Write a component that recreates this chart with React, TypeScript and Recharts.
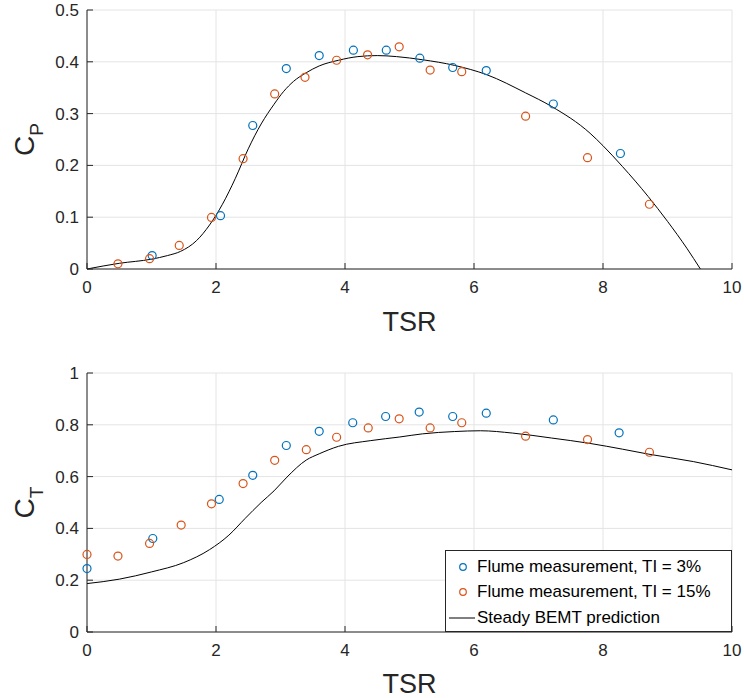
import React from 'react';
import { ComposedChart, Scatter, Line, XAxis, YAxis, CartesianGrid } from 'recharts';

const BLUE = '#0072BD';
const ORANGE = '#D95319';
const AX = '#262626';
const GRID = '#e4e4e4';
const FONT = '"Liberation Sans", Arial, Helvetica, sans-serif';

const tsrTicks = [0, 2, 4, 6, 8, 10];
const cpTicks = [0, 0.1, 0.2, 0.3, 0.4, 0.5];
const ctTicks = [0, 0.2, 0.4, 0.6, 0.8, 1];

// Power coefficient, TI = 3%
const cp3Tsr = [1.01, 2.07, 2.57, 3.09, 3.6, 4.13, 4.64, 5.16, 5.67, 6.19, 7.23, 8.27];
const cp3Val = [0.026, 0.103, 0.277, 0.387, 0.412, 0.4225, 0.4225, 0.407, 0.389, 0.383, 0.3185, 0.223];
// Power coefficient, TI = 15%
const cp15Tsr = [0.48, 0.97, 1.43, 1.93, 2.42, 2.91, 3.38, 3.87, 4.35, 4.84, 5.32, 5.81, 6.8, 7.76, 8.72];
const cp15Val = [0.01, 0.02, 0.0455, 0.0995, 0.213, 0.338, 0.37, 0.403, 0.4135, 0.429, 0.384, 0.381, 0.295, 0.215, 0.125];
// Power coefficient, BEMT
const cpBemtTsr = [0, 0.5, 1.0, 1.25, 1.45, 1.7, 1.9, 2.1, 2.3, 2.5, 2.7, 2.9, 3.05, 3.2, 3.4, 3.6, 3.9, 4.2, 4.5, 4.8, 5.2, 5.7, 6.2, 6.8, 7.2, 7.8, 8.0, 8.3, 8.7, 9.0, 9.3, 9.51];
const cpBemtVal = [0, 0.011, 0.019, 0.026, 0.034, 0.055, 0.085, 0.125, 0.175, 0.232, 0.28, 0.318, 0.343, 0.362, 0.379, 0.392, 0.403, 0.41, 0.412, 0.41, 0.404, 0.393, 0.375, 0.34, 0.314, 0.262, 0.238, 0.198, 0.14, 0.092, 0.04, 0];

// Thrust coefficient, TI = 3%
const ct3Tsr = [0, 1.02, 2.05, 2.57, 3.09, 3.6, 4.12, 4.63, 5.15, 5.67, 6.19, 7.23, 8.25];
const ct3Val = [0.245, 0.361, 0.512, 0.605, 0.72, 0.775, 0.808, 0.832, 0.849, 0.832, 0.845, 0.819, 0.769];
// Thrust coefficient, TI = 15%
const ct15Tsr = [0, 0.48, 0.97, 1.46, 1.93, 2.42, 2.91, 3.4, 3.87, 4.36, 4.84, 5.32, 5.81, 6.8, 7.76, 8.72];
const ct15Val = [0.2995, 0.293, 0.342, 0.413, 0.495, 0.573, 0.663, 0.704, 0.752, 0.788, 0.823, 0.788, 0.808, 0.756, 0.743, 0.694];
// Thrust coefficient, BEMT
const ctBemtTsr = [0, 0.5, 1.0, 1.5, 1.9, 2.2, 2.45, 2.7, 2.9, 3.1, 3.4, 3.6, 3.9, 4.4, 4.85, 5.2, 5.7, 6.1, 6.6, 7.2, 7.8, 8.3, 8.7, 9.4, 10];
const ctBemtVal = [0.187, 0.204, 0.232, 0.268, 0.318, 0.374, 0.438, 0.5, 0.545, 0.598, 0.664, 0.688, 0.717, 0.739, 0.753, 0.765, 0.774, 0.777, 0.768, 0.749, 0.728, 0.706, 0.687, 0.658, 0.626];

const legendLabels = ['Flume measurement, TI = 3%', 'Flume measurement, TI = 15%', 'Steady BEMT prediction'];

const zip = (xs: number[], ys: number[]) => xs.map((x, i) => ({ x, y: ys[i] }));

const circleShape = (color: string) => (props: any) => {
  const { cx, cy } = props;
  if (cx == null || cy == null) return <g />;
  return <circle cx={cx} cy={cy} r={4} fill="none" stroke={color} strokeWidth={1.2} />;
};

const XTick = (props: any) => {
  const { x, y, payload } = props;
  return (
    <g>
      <line x1={x} y1={y} x2={x} y2={y - 6} stroke={AX} strokeWidth={1} />
      <text x={x} y={y + 24} textAnchor="middle" fontSize={17} fill={AX} fontFamily={FONT}>
        {payload.value}
      </text>
    </g>
  );
};

const YTick = (props: any) => {
  const { x, y, payload } = props;
  return (
    <g>
      <line x1={x} y1={y} x2={x + 6} y2={y} stroke={AX} strokeWidth={1} />
      <text x={x - 8} y={y + 6} textAnchor="end" fontSize={17} fill={AX} fontFamily={FONT}>
        {payload.value}
      </text>
    </g>
  );
};

const LegendBox = () => (
  <div
    style={{
      position: 'absolute',
      left: 445,
      top: 550,
      width: 287,
      height: 82,
      boxSizing: 'border-box',
      border: `1px solid ${AX}`,
      background: '#fff',
      paddingTop: 3,
      fontFamily: FONT,
      fontSize: 17,
      color: '#000',
    }}
  >
    {legendLabels.map((lab, i) => (
      <div key={lab} style={{ height: 25.5, display: 'flex', alignItems: 'center', whiteSpace: 'nowrap' }}>
        <svg width={31} height={20} style={{ flex: '0 0 auto' }}>
          {i < 2 ? (
            <circle cx={17} cy={10} r={3.3} fill="none" stroke={i === 0 ? BLUE : ORANGE} strokeWidth={1.2} />
          ) : (
            <line x1={3} y1={10} x2={29} y2={10} stroke="#000" strokeWidth={1} />
          )}
        </svg>
        <span>{lab}</span>
      </div>
    ))}
  </div>
);

const YLabel = ({ cy, main, sub }: { cy: number; main: string; sub: string }) => (
  <text
    transform={`translate(34,${cy}) rotate(-90)`}
    textAnchor="middle"
    fontSize={28}
    fill={AX}
    fontFamily={FONT}
  >
    {main}
    <tspan fontSize={19} dy={9}>
      {sub}
    </tspan>
  </text>
);

export default function App() {
  const cp3 = zip(cp3Tsr, cp3Val);
  const cp15 = zip(cp15Tsr, cp15Val);
  const cpB = zip(cpBemtTsr, cpBemtVal);
  const ct3 = zip(ct3Tsr, ct3Val);
  const ct15 = zip(ct15Tsr, ct15Val);
  const ctB = zip(ctBemtTsr, ctBemtVal);

  return (
    <div style={{ position: 'absolute', left: 0, top: 0, width: 744, height: 698, background: '#fff' }}>
      <div style={{ position: 'absolute', left: 0, top: 0 }}>
        <ComposedChart width={744} height={340} margin={{ top: 10, right: 12, left: 0, bottom: 0 }}>
          <CartesianGrid stroke={GRID} strokeWidth={1} />
          <XAxis
            dataKey="x"
            type="number"
            domain={[0, 10]}
            ticks={tsrTicks}
            interval={0}
            height={71}
            tickSize={0}
            tickMargin={0}
            tickLine={false}
            axisLine={{ stroke: AX }}
            tick={XTick}
          />
          <YAxis
            type="number"
            domain={[0, 0.5]}
            ticks={cpTicks}
            interval={0}
            width={87}
            tickSize={0}
            tickMargin={0}
            tickLine={false}
            axisLine={{ stroke: AX }}
            tick={YTick}
          />
          <Line data={cpB} dataKey="y" type="monotone" stroke="#000" strokeWidth={1} dot={false} activeDot={false} isAnimationActive={false} />
          <Scatter data={cp3} dataKey="y" shape={circleShape(BLUE)} isAnimationActive={false} />
          <Scatter data={cp15} dataKey="y" shape={circleShape(ORANGE)} isAnimationActive={false} />
        </ComposedChart>
      </div>
      <div style={{ position: 'absolute', left: 0, top: 340 }}>
        <ComposedChart width={744} height={358} margin={{ top: 33, right: 12, left: 0, bottom: 0 }}>
          <CartesianGrid stroke={GRID} strokeWidth={1} />
          <XAxis
            dataKey="x"
            type="number"
            domain={[0, 10]}
            ticks={tsrTicks}
            interval={0}
            height={66}
            tickSize={0}
            tickMargin={0}
            tickLine={false}
            axisLine={{ stroke: AX }}
            tick={XTick}
          />
          <YAxis
            type="number"
            domain={[0, 1]}
            ticks={ctTicks}
            interval={0}
            width={87}
            tickSize={0}
            tickMargin={0}
            tickLine={false}
            axisLine={{ stroke: AX }}
            tick={YTick}
          />
          <Line data={ctB} dataKey="y" type="monotone" stroke="#000" strokeWidth={1} dot={false} activeDot={false} isAnimationActive={false} />
          <Scatter data={ct3} dataKey="y" shape={circleShape(BLUE)} isAnimationActive={false} />
          <Scatter data={ct15} dataKey="y" shape={circleShape(ORANGE)} isAnimationActive={false} />
        </ComposedChart>
      </div>
      <svg width={744} height={698} style={{ position: 'absolute', left: 0, top: 0, pointerEvents: 'none' }}>
        <YLabel cy={139.5} main="C" sub="P" />
        <YLabel cy={502.5} main="C" sub="T" />
        <text x={409.5} y={331} textAnchor="middle" fontSize={27} fill={AX} fontFamily={FONT}>TSR</text>
        <text x={409.5} y={693} textAnchor="middle" fontSize={27} fill={AX} fontFamily={FONT}>TSR</text>
      </svg>
      <LegendBox />
    </div>
  );
}
